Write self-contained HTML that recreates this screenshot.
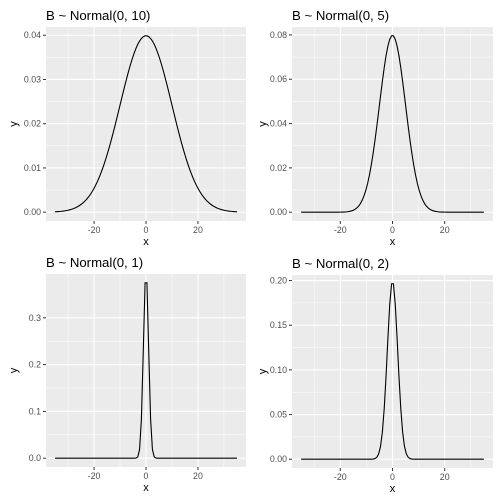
<!DOCTYPE html>
<html><head><meta charset="utf-8"><style>
html,body{margin:0;padding:0;background:#fff}
svg{display:block;font-family:"Liberation Sans",sans-serif}
</style></head><body>
<svg id="c" width="504" height="504" viewBox="0 0 504 504"></svg>
<script>
const panelTitles = ["B ~ Normal(0, 10)", "B ~ Normal(0, 5)", "B ~ Normal(0, 1)", "B ~ Normal(0, 2)"];
const panelMeans = [0, 0, 0, 0];
const panelSds = [10, 5, 1, 2];
const xMin = -35, xMax = 35, nPoints = 100;
const xTicks = [-20, 0, 20];
const xMinor = [-30, -10, 10, 30];
const yTicks1 = [0, 0.01, 0.02, 0.03, 0.04];
const yTicks2 = [0, 0.02, 0.04, 0.06, 0.08];
const yTicks3 = [0, 0.1, 0.2, 0.3];
const yTicks4 = [0, 0.05, 0.10, 0.15, 0.20];
const yLabels1 = ["0.00","0.01","0.02","0.03","0.04"];
const yLabels2 = ["0.00","0.02","0.04","0.06","0.08"];
const yLabels3 = ["0.0","0.1","0.2","0.3"];
const yLabels4 = ["0.00","0.05","0.10","0.15","0.20"];

const layouts = [
  {l:46,r:246,t:27,b:221,yt:13,tx:46},
  {l:292,r:493,t:27,b:221,yt:262,tx:292},
  {l:46,r:246,t:274,b:467,yt:13,tx:46},
  {l:292,r:493,t:275,b:468,yt:262,tx:292}
];
const allTicks = [yTicks1,yTicks2,yTicks3,yTicks4];
const allLabels = [yLabels1,yLabels2,yLabels3,yLabels4];
const svg = document.getElementById('c');
const NS = "http://www.w3.org/2000/svg";
function mk(tag, attrs, parent){
  const e = document.createElementNS(NS, tag);
  for (const k in attrs) e.setAttribute(k, attrs[k]);
  parent.appendChild(e); return e;
}
function dnorm(x,m,s){return Math.exp(-0.5*((x-m)/s)**2)/(s*Math.sqrt(2*Math.PI));}

for (let p=0;p<4;p++){
  const L = layouts[p];
  const g = mk('g',{},svg);
  
  
  const xs=[], ys=[];
  for (let i=0;i<nPoints;i++){const x=xMin+(xMax-xMin)*i/(nPoints-1); xs.push(x); ys.push(dnorm(x,panelMeans[p],panelSds[p]));}
  const yMax = Math.max(...ys), yLo = 0;
  const xe=(xMax-xMin)*0.05, ye=(yMax-yLo)*0.05;
  const sx = v => L.l + (v-(xMin-xe))/((xMax+xe)-(xMin-xe))*(L.r-L.l);
  const sy = v => L.b - (v-(yLo-ye))/((yMax+ye)-(yLo-ye))*(L.b-L.t);
  const bg = mk('rect',{x:L.l,y:L.t,width:L.r-L.l,height:L.b-L.t,fill:'#ebebeb'},g);
  
  
  const yt = allTicks[p];
  for (let i=0;i<yt.length-1;i++){
    const v=(yt[i]+yt[i+1])/2;
    mk('line',{x1:L.l,x2:L.r,y1:sy(v),y2:sy(v),stroke:'#fff','stroke-width':0.5},g);
  }
  xMinor.forEach(v=>mk('line',{x1:sx(v),x2:sx(v),y1:L.t,y2:L.b,stroke:'#fff','stroke-width':0.5},g));
  yt.forEach((v,i)=>{
    const y=sy(v);
    mk('line',{x1:L.l,x2:L.r,y1:y,y2:y,stroke:'#fff','stroke-width':1.1},g);
    mk('line',{x1:L.l-3,x2:L.l,y1:y,y2:y,stroke:'#333','stroke-width':1},g);
    const t=mk('text',{x:L.l-5,y:y+3,'text-anchor':'end','font-size':8.8,fill:'#4d4d4d'},g);
    t.textContent=allLabels[p][i];
    
    
  });
  xTicks.forEach(v=>{
    const x=sx(v);
    mk('line',{x1:x,x2:x,y1:L.t,y2:L.b,stroke:'#fff','stroke-width':1.1},g);
    mk('line',{x1:x,x2:x,y1:L.b,y2:L.b+3,stroke:'#333','stroke-width':1},g);
    const t=mk('text',{x:x,y:L.b+12,'text-anchor':'middle','font-size':8.8,fill:'#4d4d4d'},g);
    t.textContent=String(v);
    
    
  });
  const d = xs.map((x,i)=>(i?'L':'M')+sx(x).toFixed(2)+' '+sy(ys[i]).toFixed(2)).join('');
  const path = mk('path',{d:d,fill:'none',stroke:'#000','stroke-width':1.1},g);
  
  
  const title = mk('text',{x:L.tx,y:L.t-7,'font-size':13.2,fill:'#000'},g);
  title.textContent = panelTitles[p];
  
  
  const xl = mk('text',{x:(L.l+L.r)/2,y:L.b+24,'text-anchor':'middle','font-size':11,fill:'#000'},g);
  xl.textContent='x';
  
  
  const cy=(L.t+L.b)/2;
  const yl = mk('text',{x:L.yt,y:cy,'text-anchor':'middle','font-size':11,fill:'#000',transform:'rotate(-90 '+(L.yt)+' '+cy+')',dy:'0.35em'},g);
  yl.textContent='y';
  
  
}
</script>
</body></html>
